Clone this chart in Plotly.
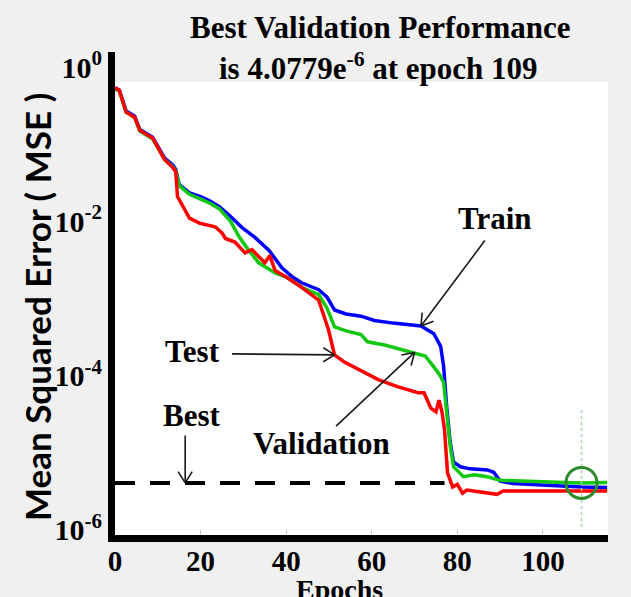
import math
import plotly.graph_objects as go

# ---- performance history: mean squared error per epoch for each data split ----
train_epochs = [0, 1, 2.6, 4.6, 5.8, 8.8, 11.6, 13.5, 14.2, 15, 17.4, 20, 22, 24.4, 26.7,
                29.7, 32.7, 36, 39, 41.5, 43.6, 47.6, 49.5, 51.3, 54, 57.5, 60.6, 65, 71.5,
                74.5, 76.1, 76.8, 77.5, 78.3, 79.1, 80.7, 83, 87, 88.5, 90, 93, 100, 105,
                109, 115]
train_mse = [0.54, 0.50, 0.27, 0.23, 0.155, 0.123, 0.066, 0.054, 0.047, 0.030, 0.0234,
             0.0209, 0.0186, 0.0155, 0.0120, 0.0083, 0.0062, 0.0042, 0.0025, 0.0019,
             0.0016, 0.0013, 0.00105, 7.1e-4, 6.3e-4, 5.9e-4, 5.2e-4, 4.8e-4, 4.4e-4,
             3.5e-4, 2.4e-4, 1.3e-4, 4.0e-5, 1.4e-5, 7.6e-6, 6.6e-6, 6.2e-6, 6.0e-6,
             5.6e-6, 4.3e-6, 4.0e-6, 3.8e-6, 3.7e-6, 3.6e-6, 3.55e-6]

val_epochs = [0, 1, 2.6, 4.6, 5.8, 8.8, 11.6, 13.5, 14.2, 15, 17.4, 20, 22, 24.4, 27, 29,
              31, 33.6, 37.4, 40, 43.6, 47.6, 49.5, 51.3, 54, 57.5, 59, 63, 70, 72.5, 74.5,
              76, 76.8, 77.6, 78.3, 79.1, 81.4, 84, 87, 90, 95, 100, 105, 109, 112, 115]
val_mse = [0.52, 0.49, 0.26, 0.22, 0.148, 0.117, 0.063, 0.051, 0.045, 0.029, 0.0224,
           0.0195, 0.0174, 0.0145, 0.0100, 0.0063, 0.0044, 0.0029, 0.00214, 0.0019,
           0.0014, 0.00112, 7.6e-4, 4.3e-4, 3.8e-4, 3.4e-4, 2.75e-4, 2.5e-4, 2.0e-4,
           1.8e-4, 1.3e-4, 1.0e-4, 8.1e-5, 3.2e-5, 1.26e-5, 6.6e-6, 4.9e-6, 5.2e-6,
           4.9e-6, 4.4e-6, 4.27e-6, 4.17e-6, 4.12e-6, 4.0779e-6, 4.11e-6, 4.14e-6]

test_epochs = [0, 1, 2.6, 4.6, 5.8, 8.8, 11.6, 13.5, 14.2, 14.6, 17.4, 19.7, 23.4, 25,
               25.8, 28, 30.4, 32, 35, 36.2, 37.4, 40, 43.6, 47.6, 49.9, 51.3, 53.6, 58.2,
               61.5, 66, 70.8, 72.2, 73.8, 75, 75.7, 76.4, 77, 77.7, 78.9, 80, 81.2, 82.2,
               85.4, 89.3, 90.7, 100, 109, 115]
test_mse = [0.54, 0.50, 0.26, 0.224, 0.151, 0.120, 0.063, 0.050, 0.044, 0.021, 0.011,
            0.0095, 0.0085, 0.0071, 0.0060, 0.0054, 0.0039, 0.0043, 0.0029, 0.0036,
            0.0023, 0.0019, 0.0014, 9.5e-4, 3.9e-4, 1.86e-4, 1.5e-4, 1.1e-4, 8.9e-5,
            7.2e-5, 6.0e-5, 6.0e-5, 3.8e-5, 3.4e-5, 4.8e-5, 3.4e-5, 2.0e-5, 5.5e-6,
            3.6e-6, 3.9e-6, 3.0e-6, 3.3e-6, 3.1e-6, 2.9e-6, 3.2e-6, 3.2e-6, 3.2e-6, 3.2e-6]

BEST_EPOCH = 109
BEST_MSE = 4.0779e-6
BEST_GUIDE_EPOCHS = [0, 77]          # extent of the dashed best-level guide
BEST_MARK_SPAN = [3.6e-5, 1.05e-6]   # extent of the dotted best-epoch guide

x_ticks = [0, 20, 40, 60, 80, 100]
y_ticks = [1e0, 1e-2, 1e-4, 1e-6]
y_tick_text = ["10<sup>0</sup>", "10<sup>-2</sup>", "10<sup>-4</sup>", "10<sup>-6</sup>"]

SERIF = "Liberation Serif"
SANS = "Lato"
W, H = 631, 597
ML, MR, MT, MB = 115, 23, 52, 62
PW, PH = W - ML - MR, H - MT - MB


def px_to_paper(px, py):
    return (px - ML) / PW, (H - MB - py) / PH


fig = go.Figure()

fig.add_trace(go.Scatter(x=train_epochs, y=train_mse, mode="lines",
                         line=dict(color="#0000ff", width=3.5), name="Train"))
fig.add_trace(go.Scatter(x=val_epochs, y=val_mse, mode="lines",
                         line=dict(color="#12c812", width=3.5), name="Validation"))
fig.add_trace(go.Scatter(x=test_epochs, y=test_mse, mode="lines",
                         line=dict(color="#ff0000", width=3.5), name="Test"))

# dashed "best" level
fig.add_trace(go.Scatter(x=BEST_GUIDE_EPOCHS, y=[BEST_MSE, BEST_MSE], mode="lines",
                         line=dict(color="black", width=4, dash="20px,15px"), name="Best"))
# dotted marker line at the best epoch
fig.add_trace(go.Scatter(x=[BEST_EPOCH, BEST_EPOCH], y=BEST_MARK_SPAN, mode="lines",
                         line=dict(color="#a9d9a9", width=1.5, dash="dot"), name="Goal"))
# ring around the best validation point
fig.add_trace(go.Scatter(x=[BEST_EPOCH], y=[BEST_MSE], mode="markers",
                         marker=dict(symbol="circle-open", size=31, color="#2e8b2e",
                                     line=dict(color="#2e8b2e", width=3)),
                         name="Best point"))

annotations = []


def add_text(text, px, py, size, family=SERIF, angle=0, yanchor="middle"):
    lx, ly = px_to_paper(px, py)
    annotations.append(dict(xref="paper", yref="paper", x=lx, y=ly, showarrow=False,
                            xanchor="center", yanchor=yanchor, textangle=angle,
                            text=text,
                            font=dict(family=family, size=size, weight="bold",
                                      color="black")))


# title
add_text("Best Validation Performance", 380, 28, 31)
add_text("is 4.0779e<sup>-6</sup> at epoch 109", 378, 66, 31)

# axis titles
add_text("Mean Squared Error ( MSE )", 37, 307, 35, family=SANS, angle=-90)
add_text("Epochs", 339, 572, 28, yanchor="top")


def add_arrow(x, y, tail_dx, tail_dy, head_len=15, head_angle=32):
    """Line arrow with an open V head, pointing at data point (x, y)."""
    ly = math.log10(y)
    common = dict(xref="x", yref="y", x=x, y=ly, text="", showarrow=True,
                  arrowhead=0, arrowwidth=1.6, arrowcolor="#1a1a1a",
                  standoff=0, startstandoff=0, axref="pixel", ayref="pixel")
    annotations.append(dict(common, ax=tail_dx, ay=tail_dy))
    L = math.hypot(tail_dx, tail_dy)
    ux, uy = tail_dx / L, tail_dy / L
    for s in (1, -1):
        a = math.radians(head_angle * s)
        hx = ux * math.cos(a) - uy * math.sin(a)
        hy = ux * math.sin(a) + uy * math.cos(a)
        annotations.append(dict(common, ax=hx * head_len, ay=hy * head_len))


i_tr = train_epochs.index(71.5)
add_arrow(train_epochs[i_tr], train_mse[i_tr], 65, -87)
add_text("Train", 495, 218, 31)

i_te = test_epochs.index(51.3)
add_arrow(test_epochs[i_te], test_mse[i_te], -104, -1)
add_text("Test", 192, 351, 31)

i_va = val_epochs.index(70)
add_arrow(val_epochs[i_va], val_mse[i_va], -80, 75)
add_text("Validation", 321, 443, 31)

add_arrow(16.4, BEST_MSE, 0, -49)
add_text("Best", 192, 415, 31)

_, white_top = px_to_paper(0, 82)
shapes = [dict(type="rect", xref="paper", yref="paper", x0=0, x1=1, y0=0, y1=white_top,
               fillcolor="white", line=dict(width=0), layer="below")]

fig.update_layout(
    width=W, height=H,
    margin=dict(l=ML, r=MR, t=MT, b=MB),
    paper_bgcolor="#f0f0f0",
    plot_bgcolor="#f0f0f0",
    showlegend=False,
    annotations=annotations,
    shapes=shapes,
    xaxis=dict(range=[0, 115.2], showgrid=False, zeroline=False,
               showline=True, linecolor="black", linewidth=7,
               ticks="inside", ticklen=5, tickcolor="#c8c8c8", tickwidth=1,
               tickvals=x_ticks, ticklabelstandoff=-6,
               tickfont=dict(family=SERIF, size=29, weight="bold", color="black")),
    yaxis=dict(type="log", range=[-6.065, 0.195], showgrid=False, zeroline=False,
               showline=True, linecolor="black", linewidth=7,
               ticks="", tickvals=y_ticks, ticktext=y_tick_text,
               tickfont=dict(family=SERIF, size=30, weight="bold", color="black")),
)

fig.write_html("out.html")
